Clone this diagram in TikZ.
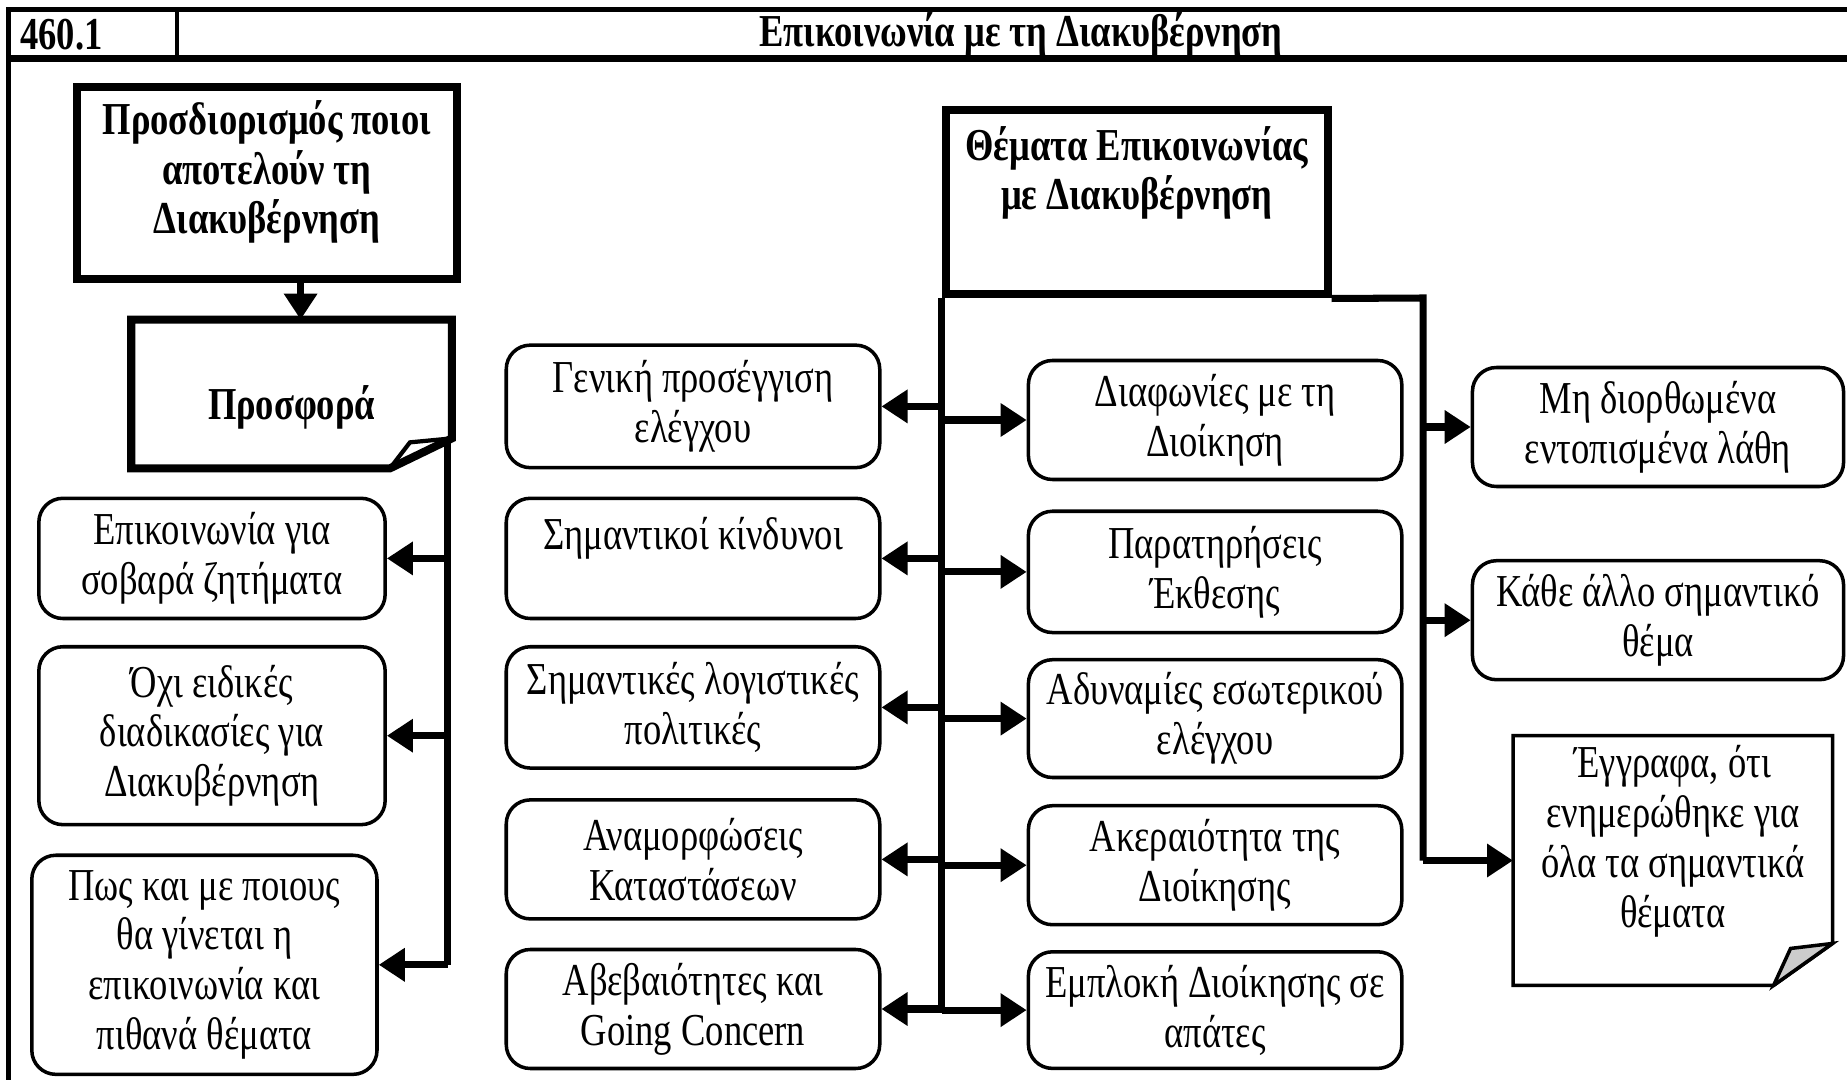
\documentclass[tikz,border=0pt]{standalone}
\usepackage{fontspec}
\setmainfont[FakeStretch=0.8]{Liberation Serif}
\usetikzlibrary{arrows.meta}

\begin{document}
\begin{tikzpicture}[auto]
    \tikzstyle{plain}=[align=center,font=\fontsize{13}{14.2}\selectfont]
    \tikzstyle{strong}=[align=center,font=\fontsize{13}{14.1}\selectfont\bfseries]
    \tikzstyle{heavy}=[draw,line width=2.3pt]
    \tikzstyle{item}=[plain,draw,rounded corners=0.24cm,line width=1pt]
    \tikzstyle{trunk}=[line width=2pt]
    \tikzstyle{arr}=[line width=2pt,-{Triangle[length=2.6mm,width=3.2mm]}]
    \useasboundingbox (0,0) rectangle (18.47,-10.80);
    % header row
    \draw [line width=1.5pt] (0.082,-10.9) -- (0.082,-0.094) -- (18.6,-0.094);
    \draw [line width=2pt] (0.082,-0.589) -- (18.6,-0.589);
    \draw [line width=1.2pt] (1.767,-0.094) -- (1.767,-0.589);
    \node (code)  at (0.08,-0.342) [strong,anchor=west] {460.1};
    \node (title) at (10.21,-0.342) [strong] {Επικοινωνία με τη Διακυβέρνηση};
    % left column
    \node (who)   at (2.668,-1.832) [heavy,minimum width=3.805cm,minimum height=1.920cm] {};
    \node (whotext) at ([yshift=0.11cm]who.center) [strong] {Προσδιορισμός ποιοι\\αποτελούν τη\\Διακυβέρνηση};
    \node (offer) at (2.916,-3.940) [minimum width=3.193cm,minimum height=1.473cm] {};
    \node (offertext) at ([yshift=-0.13cm]offer.center) [strong] {Προσφορά};
    \draw [line width=2.3pt] (offer.north west) -- (offer.north east) -- ([yshift=0.3cm]offer.south east) -- ([xshift=-0.62cm]offer.south east) -- (offer.south west) -- cycle;
    \draw [line width=1.2pt] ([yshift=0.3cm]offer.south east) -- ([xshift=-0.42cm,yshift=0.26cm]offer.south east) -- ([xshift=-0.62cm]offer.south east);
    \node (l1) at (2.120,-5.584) [item,minimum width=3.463cm,minimum height=1.202cm] {Επικοινωνία για\\σοβαρά ζητήματα};
    \node (l2) at (2.120,-7.357) [item,minimum width=3.463cm,minimum height=1.779cm] {Όχι ειδικές\\διαδικασίες για\\Διακυβέρνηση};
    \node (l3) at (2.044,-9.648) [item,minimum width=3.452cm,minimum height=2.191cm] {Πως και με ποιους\\θα γίνεται η\\επικοινωνία και\\πιθανά θέματα};
    \coordinate (lfold) at ([xshift=-0.04cm,yshift=0.3cm]offer.south east);
    \draw [arr] ([xshift=0.09cm]offer.north |- who.south) -- ([xshift=0.09cm]offer.north);
    \draw [trunk] (lfold) -- (lfold |- l3.east);
    \foreach \n in {l1,l2,l3}
        \draw [arr] (lfold |- \n.east) -- (\n.east);
    % topics and the two middle columns
    \node (topics) at (11.368,-2.020) [heavy,minimum width=3.817cm,minimum height=1.849cm] {};
    \node (topicstext) at ([yshift=-0.2cm]topics.north) [strong,anchor=north,inner sep=0pt] {Θέματα Επικοινωνίας\\με Διακυβέρνηση};
    \node (m1) at (6.93,-4.064)  [item,minimum width=3.735cm,minimum height=1.225cm] {Γενική προσέγγιση\\ελέγχου};
    \node (m2) at (6.93,-5.584)  [item,minimum width=3.735cm,minimum height=1.202cm] {};
    \node (m2text) at ([yshift=-0.2cm]m2.north) [plain,anchor=north,inner sep=0pt] {Σημαντικοί κίνδυνοι};
    \node (m3) at (6.93,-7.074)  [item,minimum width=3.735cm,minimum height=1.213cm] {Σημαντικές λογιστικές\\πολιτικές};
    \node (m4) at (6.93,-8.594)  [item,minimum width=3.735cm,minimum height=1.190cm] {Αναμορφώσεις\\Καταστάσεων};
    \node (m5) at (6.93,-10.090) [item,minimum width=3.735cm,minimum height=1.190cm] {Αβεβαιότητες και\\Going Concern};
    \node (r1) at (12.151,-4.200)  [item,minimum width=3.734cm,minimum height=1.190cm] {Διαφωνίες με τη\\Διοίκηση};
    \node (r2) at (12.151,-5.719)  [item,minimum width=3.734cm,minimum height=1.213cm] {Παρατηρήσεις\\Έκθεσης};
    \node (r3) at (12.151,-7.186)  [item,minimum width=3.734cm,minimum height=1.178cm] {Αδυναμίες εσωτερικού\\ελέγχου};
    \node (r4) at (12.151,-8.652)  [item,minimum width=3.734cm,minimum height=1.190cm] {Ακεραιότητα της\\Διοίκησης};
    \node (r5) at (12.151,-10.101) [item,minimum width=3.734cm,minimum height=1.166cm] {Εμπλοκή Διοίκησης σε\\απάτες};
    \draw [trunk] (topics.south west) -- (topics.south west |- m5.east);
    \foreach \n in {m1,m2,m3,m4,m5}
        \draw [arr] (topics.south west |- \n.east) -- (\n.east);
    \foreach \n in {r1,r2,r3,r4,r5}
        \draw [arr] (topics.south west |- \n.west) -- (\n.west);
    % right column
    \node (f1) at (16.580,-4.270) [item,minimum width=3.711cm,minimum height=1.190cm] {Μη διορθωμένα\\εντοπισμένα λάθη};
    \node (f2) at (16.580,-6.202) [item,minimum width=3.711cm,minimum height=1.190cm] {Κάθε άλλο σημαντικό\\θέμα};
    \node (docs) at (16.728,-8.605) [minimum width=3.181cm,minimum height=2.485cm] {};
    \draw [line width=1pt] (docs.north west) -- (docs.north east) -- ([yshift=0.42cm]docs.south east) -- ([xshift=-0.59cm]docs.south east) -- (docs.south west) -- cycle;
    \filldraw [fill=gray!40,line width=1pt] ([yshift=0.42cm]docs.south east) -- ([xshift=-0.42cm,yshift=0.37cm]docs.south east) -- ([xshift=-0.59cm]docs.south east) -- cycle;
    \node (docstext) at ([yshift=0.19cm]docs.center) [plain] {Έγγραφα, ότι\\ενημερώθηκε για\\όλα τα σημαντικά\\θέματα};
    \coordinate (rbranch) at (14.23,-2.98);
    \draw [trunk] (topics.south east) -- (rbranch) -- (rbranch |- docs.west);
    \foreach \n in {f1,f2,docs}
        \draw [arr] (rbranch |- \n.west) -- (\n.west);
\end{tikzpicture}
\end{document}
